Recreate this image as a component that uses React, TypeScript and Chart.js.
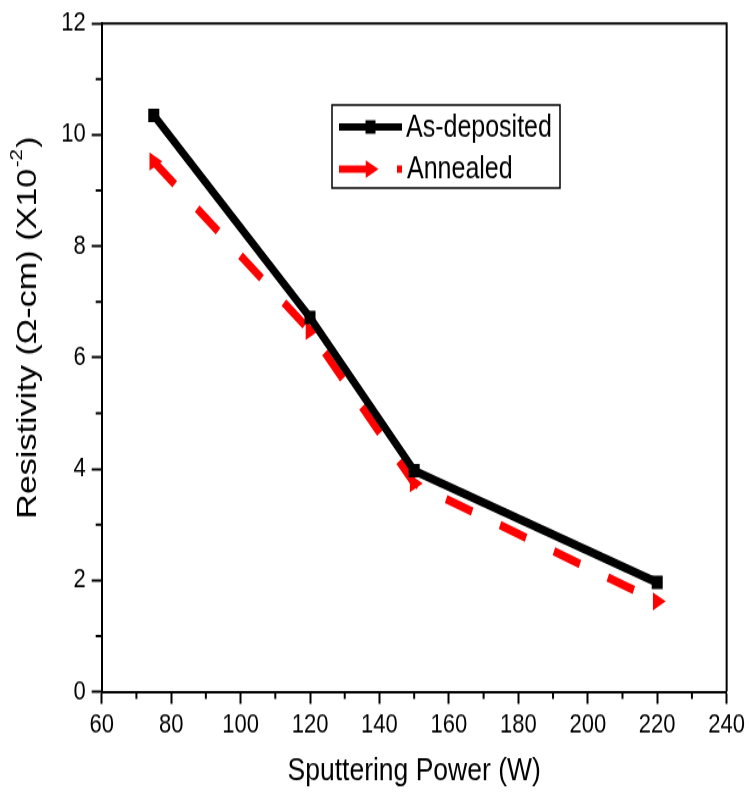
import React, { useEffect, useRef } from 'react';
import { Chart, registerables } from 'chart.js';

Chart.register(...registerables);

// ---- data ----
const powers = [75, 120, 150, 220];
const asDeposited = [10.35, 6.72, 3.97, 1.96];
const annealed = [9.52, 6.48, 3.74, 1.62];
const seriesNames = ['As-deposited', 'Annealed'];
const xTitle = 'Sputtering Power (W)';
const yTitleMain = 'Resistivity (\u03A9-cm) (X10';
const yTitleSup = '-2';
const yTitleEnd = ')';

const W = 749;
const DISPLAY_H = 796;
const H = 652; // internal canvas height (reference is vertically stretched)
const FONT = "'Liberation Sans', Arial, Helvetica, sans-serif";

const decorPlugin = {
  id: 'decor',
  afterDraw(chart: any) {
    const ctx = chart.ctx;
    const { left, right, top, bottom } = chart.chartArea;
    const xs = chart.scales.x;
    const ys = chart.scales.y;
    ctx.save();
    ctx.strokeStyle = '#000';
    // frame top/right
    ctx.lineWidth = 2;
    ctx.beginPath();
    ctx.moveTo(left, top);
    ctx.lineTo(right, top);
    ctx.lineTo(right, bottom);
    ctx.stroke();
    // minor ticks
    ctx.lineWidth = 2;
    ctx.beginPath();
    for (let v = 70; v < 240; v += 20) {
      const px = xs.getPixelForValue(v);
      ctx.moveTo(px, bottom);
      ctx.lineTo(px, bottom + 6);
    }
    for (let v = 1; v < 12; v += 2) {
      const py = ys.getPixelForValue(v);
      ctx.moveTo(left, py);
      ctx.lineTo(left - 6, py);
    }
    ctx.stroke();

    // y title
    ctx.save();
    ctx.translate(36, 425);
    ctx.rotate(-Math.PI / 2);
    ctx.fillStyle = '#000';
    ctx.textBaseline = 'alphabetic';
    ctx.textAlign = 'left';
    ctx.font = `28px ${FONT}`;
    ctx.fillText(yTitleMain, 0, 0);
    let w = ctx.measureText(yTitleMain).width;
    ctx.font = `17px ${FONT}`;
    ctx.fillText(yTitleSup, w + 1, -14);
    w += ctx.measureText(yTitleSup).width + 2;
    ctx.font = `28px ${FONT}`;
    ctx.fillText(yTitleEnd, w, 0);
    ctx.restore();

    // legend
    const bx = 332, by = 86, bw = 228, bh = 68;
    ctx.lineWidth = 1.5;
    ctx.strokeStyle = '#000';
    ctx.strokeRect(bx, by, bw, bh);
    const y1 = 104, y2 = 138.5;
    // entry 1
    ctx.lineWidth = 6;
    ctx.setLineDash([]);
    ctx.beginPath();
    ctx.moveTo(339, y1);
    ctx.lineTo(402, y1);
    ctx.stroke();
    ctx.fillStyle = '#000';
    ctx.fillRect(370.5 - 5, y1 - 5.5, 10, 11);
    // entry 2
    ctx.strokeStyle = '#FF0000';
    ctx.setLineDash([28, 30]);
    ctx.beginPath();
    ctx.moveTo(339, y2);
    ctx.lineTo(402, y2);
    ctx.stroke();
    ctx.setLineDash([]);
    ctx.fillStyle = '#FF0000';
    const r = 8.5, cx = 370;
    ctx.beginPath();
    ctx.moveTo(cx + r, y2);
    ctx.lineTo(cx - r / 2, y2 - r * 0.866);
    ctx.lineTo(cx - r / 2, y2 + r * 0.866);
    ctx.closePath();
    ctx.fill();
    ctx.fillStyle = '#000';
    ctx.font = `25px ${FONT}`;
    ctx.textBaseline = 'middle';
    ctx.textAlign = 'left';
    ctx.fillText(seriesNames[0], 406, y1 + 1);
    ctx.fillText(seriesNames[1], 407, y2 + 1);
    ctx.restore();
  },
};

export default function App() {
  const ref = useRef<HTMLCanvasElement | null>(null);
  useEffect(() => {
    if (!ref.current) return;
    Chart.defaults.font.family = FONT;
    const chart = new Chart(ref.current, {
      type: 'line',
      data: {
        datasets: [
          {
            label: seriesNames[0],
            data: powers.map((p, i) => ({ x: p, y: asDeposited[i] })),
            borderColor: '#000',
            backgroundColor: '#000',
            borderWidth: 7,
            pointStyle: 'rect',
            pointRadius: 7.8,
            pointBorderWidth: 0,
            pointBackgroundColor: '#000',
            tension: 0,
          },
          {
            label: seriesNames[1],
            data: powers.map((p, i) => ({ x: p, y: annealed[i] })),
            borderColor: '#FF0000',
            backgroundColor: '#FF0000',
            borderWidth: 7,
            borderDash: [28, 30],
            pointStyle: 'triangle',
            pointRotation: 90,
            pointRadius: 8.6,
            pointBorderWidth: 0,
            pointBackgroundColor: '#FF0000',
            tension: 0,
          },
        ],
      },
      options: {
        responsive: false,
        maintainAspectRatio: false,
        animation: false,
        devicePixelRatio: 1,
        layout: { padding: { left: 0, top: 16.4, right: 20.3, bottom: 0 } },
        plugins: { legend: { display: false }, tooltip: { enabled: false } },
        scales: {
          x: {
            type: 'linear',
            min: 60,
            max: 240,
            afterFit: (s: any) => { s.height = 85.5; },
            ticks: { stepSize: 20, color: '#000', padding: 4, font: { size: 22, family: FONT } },
            grid: { drawOnChartArea: false, drawTicks: true, tickLength: 10, tickWidth: 2, tickColor: '#000', color: '#000' },
            border: { display: true, color: '#000', width: 2 },
            title: { display: true, text: xTitle, color: '#000', font: { size: 26.5, family: FONT }, padding: { top: 0, bottom: 4 } },
          },
          y: {
            type: 'linear',
            min: 0,
            max: 12,
            afterFit: (s: any) => { s.width = 101.7; },
            ticks: { stepSize: 2, color: '#000', padding: 6, font: { size: 22, family: FONT } },
            grid: { drawOnChartArea: false, drawTicks: true, tickLength: 10, tickWidth: 2, tickColor: '#000', color: '#000' },
            border: { display: true, color: '#000', width: 2 },
            title: { display: false },
          },
        },
      },
      plugins: [decorPlugin],
    });
    return () => chart.destroy();
  }, []);
  return (
    <div style={{ position: 'absolute', left: 0, top: 0, width: W, height: DISPLAY_H, background: '#fff' }}>
      <canvas
        ref={ref}
        width={W}
        height={H}
        style={{ width: `${W}px`, height: `${DISPLAY_H}px`, display: 'block' }}
      />
    </div>
  );
}
